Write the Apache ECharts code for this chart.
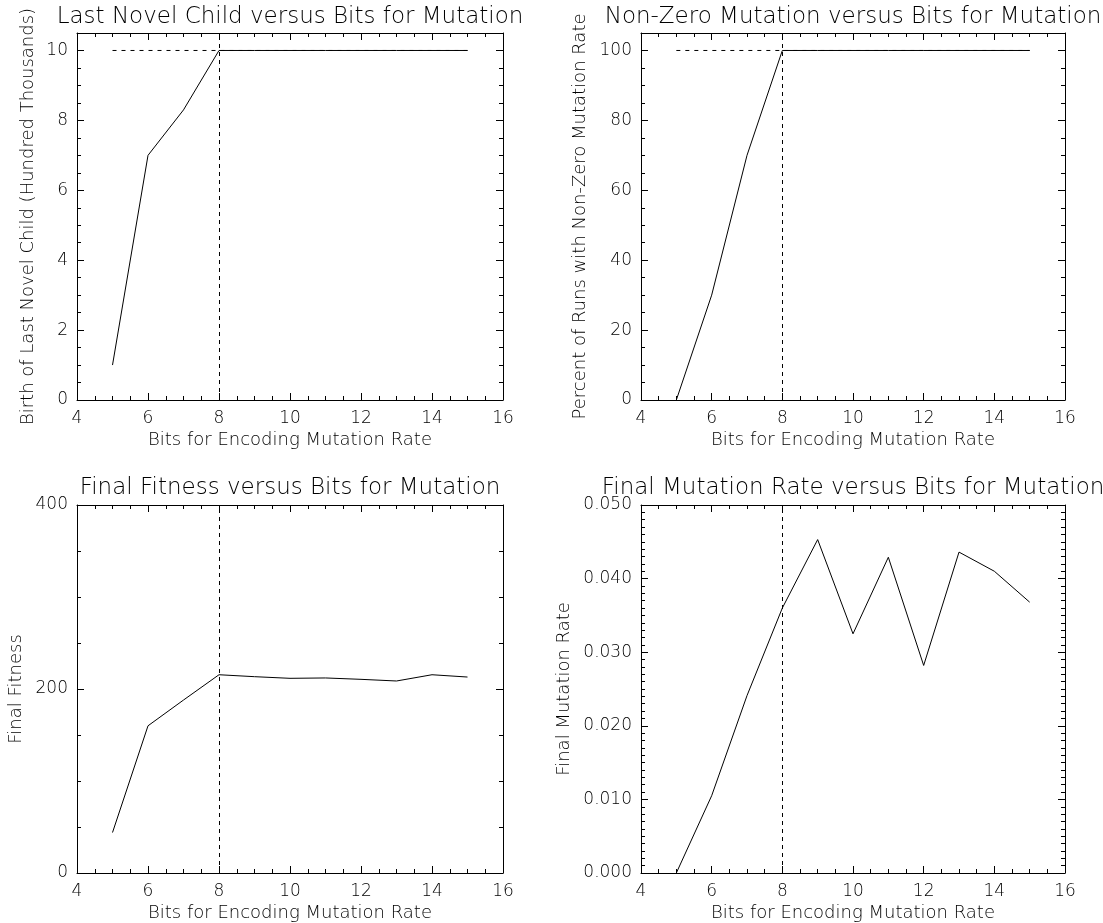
<!DOCTYPE html>
<html><head><meta charset="utf-8">
<script src="https://cdn.jsdelivr.net/npm/echarts@6/dist/echarts.min.js"></script>
<style>html,body{margin:0;padding:0;background:#fff}#c{width:1103px;height:923px}</style>
</head><body><div id="c"></div>
<script>
// ---- data ----
const bits = [5, 6, 7, 8, 9, 10, 11, 12, 13, 14, 15];
const lastNovelChild = [1.0, 7.0, 8.3, 10, 10, 10, 10, 10, 10, 10, 10];
const nonZeroPercent = [0, 30, 70, 100, 100, 100, 100, 100, 100, 100, 100];
const finalFitness = [44, 160, 188, 215.5, 213.4, 211.6, 212, 210.5, 208.7, 215.5, 213];
const finalMutationRate = [0, 0.0105, 0.0241, 0.0360, 0.0453, 0.0325, 0.0429, 0.0282, 0.0436, 0.0410, 0.0368];
const referenceBits = 8;
const lastNovelCeilingX = [5, 15];
const lastNovelCeilingY = [10, 10];
const nonZeroCeilingX = [5, 15];
const nonZeroCeilingY = [100, 100];
const xTickLabels = [4, 6, 8, 10, 12, 14, 16];
const titles = [
  'Last Novel Child versus Bits for Mutation',
  'Non-Zero Mutation versus Bits for Mutation',
  'Final Fitness versus Bits for Mutation',
  'Final Mutation Rate versus Bits for Mutation'
];
const yNames = [
  'Birth of Last Novel Child (Hundred Thousands)',
  'Percent of Runs with Non-Zero Mutation Rate',
  'Final Fitness',
  'Final Mutation Rate'
];
const xName = 'Bits for Encoding Mutation Rate';

// ---- layout/style ----
const FONT = 'DejaVu Sans';
const INK = '#000';
const panels = [
  {grid: {left: 77, top: 33, width: 426, height: 367}, y: {min: 0, max: 10.5, major: 2, minor: 0.5, dec: 0}, yGap: 40,
   series: zip(bits, lastNovelChild), ceiling: zip(lastNovelCeilingX, lastNovelCeilingY), titleY: 6},
  {grid: {left: 641, top: 33, width: 424, height: 367}, y: {min: 0, max: 105, major: 20, minor: 5, dec: 0}, yGap: 52,
   series: zip(bits, nonZeroPercent), ceiling: zip(nonZeroCeilingX, nonZeroCeilingY), titleY: 6},
  {grid: {left: 77, top: 505, width: 426, height: 368}, y: {min: 0, max: 400, major: 200, minor: 50, dec: 0}, yGap: 52,
   series: zip(bits, finalFitness), ceiling: null, titleY: 477},
  {grid: {left: 641, top: 505, width: 424, height: 368}, y: {min: 0, max: 0.05, major: 0.01, minor: 0.001, dec: 3}, yGap: 68,
   series: zip(bits, finalMutationRate), ceiling: null, titleY: 477}
];
function zip(a, b) { return a.map((v, i) => [v, b[i]]); }

const grids = [], xAxes = [], yAxes = [], series = [], titleComps = [];
const txt = (size) => ({fontFamily: FONT, fontSize: size, color: INK, fontWeight: 200});

panels.forEach((p, i) => {
  grids.push(Object.assign({outerBoundsMode: 'none', containLabel: false}, p.grid));
  const base = {gridIndex: i, type: 'value', splitLine: {show: false}, axisPointer: {show: false}};
  const xr = {min: xTickLabels[0], max: xTickLabels[xTickLabels.length - 1]};
  xAxes.push(Object.assign({}, base, xr, {
    position: 'bottom', interval: 2,
    axisLine: {show: true, onZero: false, lineStyle: {color: INK, width: 1}},
    axisTick: {show: true, inside: true, length: 7, lineStyle: {color: INK, width: 1}},
    axisLabel: Object.assign({show: true, margin: 10}, txt(17)),
    name: xName, nameLocation: 'middle', nameGap: 31, nameTextStyle: txt(18)
  }));
  xAxes.push(Object.assign({}, base, xr, {
    position: 'top', interval: 2,
    axisLine: {show: true, onZero: false, lineStyle: {color: INK, width: 1}},
    axisTick: {show: true, inside: true, length: 7, lineStyle: {color: INK, width: 1}},
    axisLabel: {show: false}
  }));
  ['bottom', 'top'].forEach(pos => xAxes.push(Object.assign({}, base, xr, {
    position: pos, interval: 0.5,
    axisLine: {show: false, onZero: false},
    axisTick: {show: true, inside: true, length: 4, lineStyle: {color: INK, width: 1}},
    axisLabel: {show: false}
  })));
  const yr = {min: p.y.min, max: p.y.max};
  const ratio = p.y.max / p.y.major;
  yAxes.push(Object.assign({}, base, yr, {
    position: 'left', interval: p.y.major,
    axisLine: {show: true, onZero: false, lineStyle: {color: INK, width: 1}},
    axisTick: {show: true, inside: true, length: 7, lineStyle: {color: INK, width: 1}},
    axisLabel: Object.assign({show: true, margin: 9, showMaxLabel: Math.abs(ratio - Math.round(ratio)) < 1e-9,
      formatter: v => v.toFixed(p.y.dec)}, txt(17)),
    name: yNames[i], nameLocation: 'middle', nameRotate: 90, nameGap: p.yGap, nameTextStyle: txt(18)
  }));
  yAxes.push(Object.assign({}, base, yr, {
    position: 'right', interval: p.y.major,
    axisLine: {show: true, onZero: false, lineStyle: {color: INK, width: 1}},
    axisTick: {show: true, inside: true, length: 7, lineStyle: {color: INK, width: 1}},
    axisLabel: {show: false}
  }));
  ['left', 'right'].forEach(pos => yAxes.push(Object.assign({}, base, yr, {
    position: pos, interval: p.y.minor,
    axisLine: {show: false, onZero: false},
    axisTick: {show: true, inside: true, length: 4, lineStyle: {color: INK, width: 1}},
    axisLabel: {show: false}
  })));

  const xi = i * 4, yi = i * 4;
  if (p.ceiling) {
    series.push({type: 'line', xAxisIndex: xi, yAxisIndex: yi, data: p.ceiling, showSymbol: false, symbol: 'none',
      lineStyle: {color: INK, width: 1, type: [4, 5]}, silent: true, animation: false, z: 1});
  }
  series.push({type: 'line', xAxisIndex: xi, yAxisIndex: yi, data: p.series, showSymbol: false, symbol: 'none',
    lineStyle: {color: INK, width: 1}, silent: true, animation: false, z: 2,
    markLine: {silent: true, symbol: ['none', 'none'], animation: false,
      label: {show: false}, lineStyle: {color: INK, width: 1, type: [4, 4]},
      data: [{xAxis: referenceBits}]}});

  titleComps.push({text: titles[i], left: p.grid.left + p.grid.width / 2, top: p.titleY, textAlign: 'center',
    textStyle: txt(23), padding: 0});
});

const chart = echarts.init(document.getElementById('c'), null, {renderer: 'canvas'});
chart.setOption({
  backgroundColor: '#fff', animation: false,
  title: titleComps, grid: grids, xAxis: xAxes, yAxis: yAxes, series: series
});
</script></body></html>
